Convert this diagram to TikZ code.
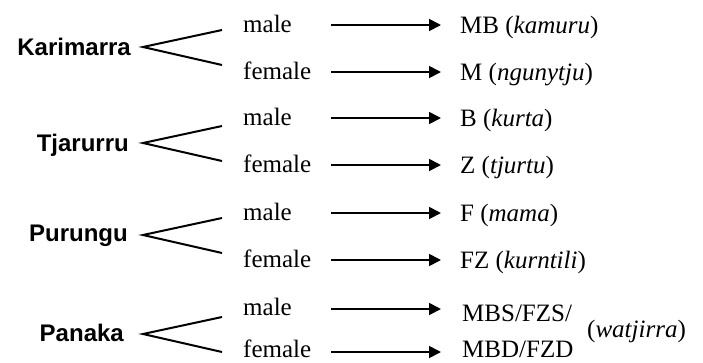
\documentclass[tikz,border=0pt]{standalone}
\usepackage{fontspec}
\setmainfont{Liberation Serif}
\newfontfamily\grpfont{Liberation Sans}
\usetikzlibrary{arrows.meta}
\begin{document}
\begin{tikzpicture}[x=1pt,y=-1pt,
  grp/.style={anchor=base east,inner sep=0pt,font=\grpfont\bfseries\fontsize{24}{28}\selectfont},
  sex/.style={anchor=base west,inner sep=0pt,font=\fontsize{25}{29}\selectfont},
  kin/.style={anchor=base west,inner sep=0pt,font=\fontsize{25}{29}\selectfont},
  wedge/.style={line width=2pt},
  arr/.style={line width=1.8pt,-{Triangle[length=12pt,width=12pt]}}]
\useasboundingbox (0,0) rectangle (703,362);
% group labels
\node[grp] (g1) at (131,55.5) {Karimarra};
\node[grp] (g2) at (129,151) {Tjarurru};
\node[grp] (g3) at (128,241.5) {Purungu};
\node[grp] (g4) at (124,341) {Panaka};
% wedges
\foreach \i/\y in {1/47,2/143,3/235,4/334}{
  \coordinate (w\i) at (143,\y);
  \coordinate (wu\i) at (222,\y-17);
  \coordinate (wl\i) at (222,\y+18);
  \draw[wedge] (wu\i) -- (w\i) -- (wl\i);
}
% sex labels
\node[sex] (m1) at (243,32) {male};
\node[sex] (f1) at (243,79) {female};
\node[sex] (m2) at (243,125.5) {male};
\node[sex] (f2) at (243,172) {female};
\node[sex] (m3) at (243,220) {male};
\node[sex] (f3) at (243,267) {female};
\node[sex] (m4) at (243,315) {male};
\node[sex] (f4) at (243,357) {female};
% kin terms
\node[kin] (t1) at (460,33) {MB (\textit{kamuru})};
\node[kin] (t2) at (460,80) {M (\textit{ngunytju})};
\node[kin] (t3) at (460,126) {B (\textit{kurta})};
\node[kin] (t4) at (460,173) {Z (\textit{tjurtu})};
\node[kin] (t5) at (460,221) {F (\textit{mama})};
\node[kin] (t6) at (460,268) {FZ (\textit{kurntili})};
\node[kin] (t7) at (462,321.5) {MBS/FZS/};
\node[kin] (t8) at (462,357) {MBD/FZD};
\node[kin] (t9) at (587,337) {(\textit{watjirra})};
% arrows
\foreach \i/\y in {1/25,2/72,3/118,4/165,5/213,6/260,7/309,8/352}{
  \coordinate (s\i) at (331,\y);
  \coordinate (e\i) at (441,\y);
  \draw[arr] (s\i) -- (e\i);
}
\end{tikzpicture}
\end{document}
